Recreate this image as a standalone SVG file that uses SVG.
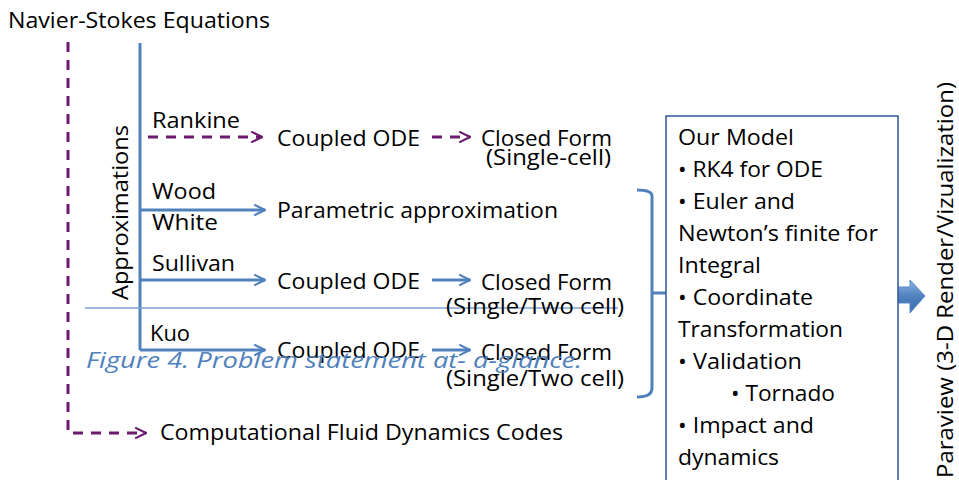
<svg xmlns="http://www.w3.org/2000/svg" width="959" height="480" viewBox="0 0 959 480">
<defs>
<style>
text{font-family:"Open Sans","Liberation Sans",sans-serif;font-size:21px;fill:#000}
.cap{font-style:italic;fill:#4F81BD;font-size:22px}
.blue{stroke:#4F81BD;stroke-width:3;fill:none}
.purp{stroke:#6A1B6E;stroke-width:3;fill:none;stroke-dasharray:10 8}
</style>
<marker id="ab" viewBox="0 0 10 10" refX="9" refY="5" markerWidth="4.5" markerHeight="4.5" orient="auto" markerUnits="strokeWidth"><path d="M1,1 L9,5 L1,9" fill="none" stroke="#4F81BD" stroke-width="1.6"/></marker>
<marker id="ap" viewBox="0 0 10 10" refX="9" refY="5" markerWidth="4.5" markerHeight="4.5" orient="auto" markerUnits="strokeWidth"><path d="M1,1 L9,5 L1,9" fill="none" stroke="#6A1B6E" stroke-width="1.6"/></marker>
<linearGradient id="g" x1="0" y1="0" x2="0" y2="1"><stop offset="0" stop-color="#8DB3E2"/><stop offset="0.5" stop-color="#4F81BD"/><stop offset="1" stop-color="#3A6BAF"/></linearGradient>
</defs>
<g id="connectors">
<path class="purp" d="M68,42 V433 H146" marker-end="url(#ap)"/>
<path class="blue" d="M140,43 V350"/>
<path class="purp" d="M148,137 H262" marker-end="url(#ap)"/>
<path class="blue" d="M140,210 H265" marker-end="url(#ab)"/>
<path class="blue" d="M140,280 H265" marker-end="url(#ab)"/>
<path class="blue" d="M140,350 H265" marker-end="url(#ab)"/>
<path class="purp" d="M432,137 H470" marker-end="url(#ap)"/>
<path class="blue" d="M432,280 H470" marker-end="url(#ab)"/>
<path class="blue" d="M432,350 H470" marker-end="url(#ab)"/>
<path d="M85,308 H618" stroke="#7FA3D4" stroke-width="1.5" fill="none"/>
<path class="blue" d="M637,190 Q652,190 652,196 V388 Q652,397 637,397 M652,293 H666"/>
<path d="M870,287 H910 V280 L925,296 L910,313 V303 H870 Z" fill="url(#g)" stroke="#5B8ACB" stroke-width="1"/>
</g>
<g id="title"><text x="8" y="28" textLength="262" lengthAdjust="spacingAndGlyphs">Navier-Stokes Equations</text></g>
<g id="approx"><text transform="translate(128,300) rotate(-90)" textLength="175" lengthAdjust="spacingAndGlyphs">Approximations</text></g>
<g id="rankine">
<text x="152" y="128" textLength="88" lengthAdjust="spacingAndGlyphs">Rankine</text>
<text x="277" y="146" textLength="143" lengthAdjust="spacingAndGlyphs">Coupled ODE</text>
<text x="481" y="146" textLength="131" lengthAdjust="spacingAndGlyphs">Closed Form</text>
<text x="486" y="165" textLength="125" lengthAdjust="spacingAndGlyphs">(Single-cell)</text>
</g>
<g id="wood">
<text x="152" y="199" textLength="64" lengthAdjust="spacingAndGlyphs">Wood</text>
<text x="152" y="230" textLength="66" lengthAdjust="spacingAndGlyphs">White</text>
<text x="277" y="218" textLength="281" lengthAdjust="spacingAndGlyphs">Parametric approximation</text>
</g>
<g id="sullivan">
<text x="152" y="271" textLength="83" lengthAdjust="spacingAndGlyphs">Sullivan</text>
<text x="277" y="289" textLength="143" lengthAdjust="spacingAndGlyphs">Coupled ODE</text>
<text x="481" y="290" textLength="131" lengthAdjust="spacingAndGlyphs">Closed Form</text>
<text x="446" y="314" textLength="178" lengthAdjust="spacingAndGlyphs">(Single/Two cell)</text>
</g>
<g id="kuo">
<text x="150" y="341" textLength="40" lengthAdjust="spacingAndGlyphs">Kuo</text>
<text x="277" y="358" textLength="143" lengthAdjust="spacingAndGlyphs">Coupled ODE</text>
<text x="481" y="360" textLength="131" lengthAdjust="spacingAndGlyphs">Closed Form</text>
<text x="446" y="386" textLength="178" lengthAdjust="spacingAndGlyphs">(Single/Two cell)</text>
</g>
<g id="caption"><text class="cap" x="86" y="368" textLength="496" lengthAdjust="spacingAndGlyphs">Figure 4. Problem statement at- a-glance.</text></g>
<g id="cfd"><text x="160" y="440" textLength="403" lengthAdjust="spacingAndGlyphs">Computational Fluid Dynamics Codes</text></g>
<g id="model">
<rect x="666" y="116" width="232" height="380" fill="#fff" stroke="#2F5597" stroke-width="1.5"/>
<text x="678" y="145" textLength="116" lengthAdjust="spacingAndGlyphs">Our Model</text>
<text x="678" y="177" textLength="145" lengthAdjust="spacingAndGlyphs">• RK4 for ODE</text>
<text x="678" y="209" textLength="117" lengthAdjust="spacingAndGlyphs">• Euler and</text>
<text x="678" y="241" textLength="200" lengthAdjust="spacingAndGlyphs">Newton’s finite for</text>
<text x="678" y="273" textLength="83" lengthAdjust="spacingAndGlyphs">Integral</text>
<text x="678" y="305" textLength="135" lengthAdjust="spacingAndGlyphs">• Coordinate</text>
<text x="678" y="337" textLength="165" lengthAdjust="spacingAndGlyphs">Transformation</text>
<text x="678" y="369" textLength="124" lengthAdjust="spacingAndGlyphs">• Validation</text>
<text x="731" y="401" textLength="104" lengthAdjust="spacingAndGlyphs">• Tornado</text>
<text x="678" y="433" textLength="136" lengthAdjust="spacingAndGlyphs">• Impact and</text>
<text x="678" y="465" textLength="101" lengthAdjust="spacingAndGlyphs">dynamics</text>
</g>
<g id="paraview"><text transform="translate(953,478) rotate(-90)" textLength="396" lengthAdjust="spacingAndGlyphs">Paraview (3-D Render/Vizualization)</text></g>
</svg>
